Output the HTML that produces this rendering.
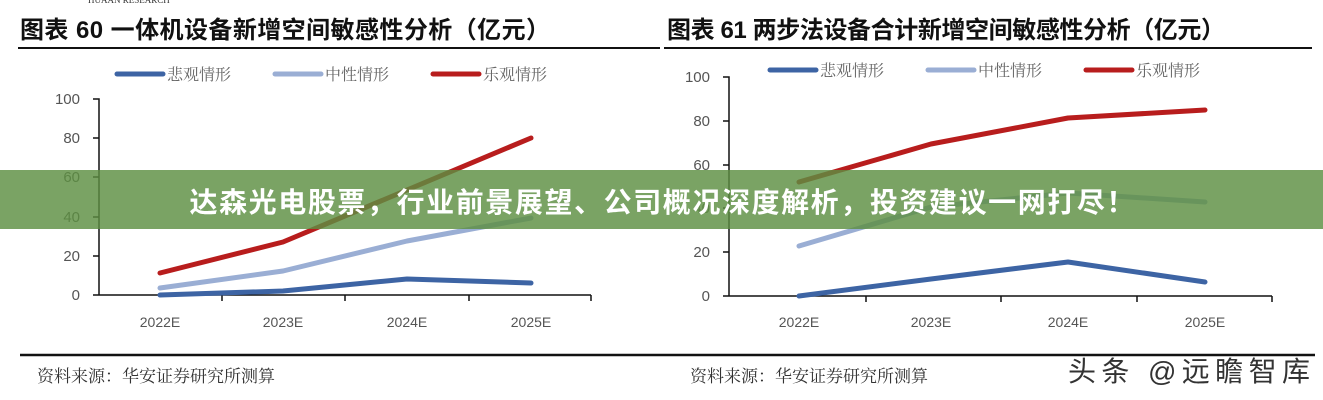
<!DOCTYPE html>
<html><head><meta charset="utf-8"><style>
body{margin:0;width:1323px;height:400px;background:#fff;overflow:hidden;font-family:"Liberation Sans","Noto Sans CJK SC",sans-serif}
</style></head><body>
<svg width="1323" height="400" xmlns="http://www.w3.org/2000/svg" style="position:absolute;left:0;top:0">
<text x="88" y="3" font-size="9" fill="#333" font-family="Liberation Serif,serif">HUAAN RESEARCH</text>
<g font-family="Liberation Sans,Noto Sans CJK SC,sans-serif" font-weight="bold" fill="#111" font-size="24">
<text x="20" y="38" textLength="530">图表 60 一体机设备新增空间敏感性分析（亿元）</text>
<text x="667" y="38" textLength="558">图表 61 两步法设备合计新增空间敏感性分析（亿元）</text>
</g>
<line x1="18" y1="48" x2="660" y2="48" stroke="#111" stroke-width="2"/>
<line x1="664" y1="48" x2="1312" y2="48" stroke="#111" stroke-width="2"/>
<g font-size="16" fill="#666" font-family="Noto Serif CJK SC,serif">
<line x1="117" y1="74" x2="163" y2="74" stroke="#3d64a4" stroke-width="5" stroke-linecap="round"/><text x="167" y="80">悲观情形</text>
<line x1="275" y1="74" x2="321" y2="74" stroke="#9aaed4" stroke-width="5" stroke-linecap="round"/><text x="325" y="80">中性情形</text>
<line x1="433" y1="74" x2="479" y2="74" stroke="#b81d1d" stroke-width="5" stroke-linecap="round"/><text x="483" y="80">乐观情形</text>
<line x1="770" y1="70" x2="816" y2="70" stroke="#3d64a4" stroke-width="5" stroke-linecap="round"/><text x="820" y="76">悲观情形</text>
<line x1="928" y1="70" x2="974" y2="70" stroke="#9aaed4" stroke-width="5" stroke-linecap="round"/><text x="978" y="76">中性情形</text>
<line x1="1086" y1="70" x2="1132" y2="70" stroke="#b81d1d" stroke-width="5" stroke-linecap="round"/><text x="1136" y="76">乐观情形</text>
</g>
<g font-size="15" fill="#555" text-anchor="end">
<text x="80" y="104">100</text><text x="80" y="143">80</text><text x="80" y="182">60</text><text x="80" y="222">40</text><text x="80" y="261">20</text><text x="80" y="300">0</text>
<text x="710" y="82">100</text><text x="710" y="126">80</text><text x="710" y="170">60</text><text x="710" y="213">40</text><text x="710" y="257">20</text><text x="710" y="301">0</text>
</g>
<g stroke="#111" stroke-width="1.5" fill="none">
<path d="M93 99H99V295M93 138H99M93 177H99M93 217H99M93 256H99M93 295H591M222 295v6M345 295v6M469 295v6M591 295v6"/>
<path d="M723 77H729V296M723 121H729M723 165H729M723 208H729M723 252H729M723 296H1272M866 296v6M1001 296v6M1137 296v6M1272 296v6"/>
</g>
<g font-size="14" fill="#555" text-anchor="middle">
<text x="160" y="327">2022E</text><text x="283" y="327">2023E</text><text x="407" y="327">2024E</text><text x="531" y="327">2025E</text>
<text x="799" y="327">2022E</text><text x="931" y="327">2023E</text><text x="1068" y="327">2024E</text><text x="1205" y="327">2025E</text>
</g>
<g fill="none" stroke-width="5" stroke-linecap="round" stroke-linejoin="round">
<polyline points="160,288 283,271 407,241 531,218" stroke="#9aaed4"/>
<polyline points="160,273 283,242 407,190 531,138" stroke="#b81d1d"/>
<polyline points="160,295 283,291 407,279 531,283" stroke="#3d64a4"/>
<polyline points="799,246 931,207 1068,193 1205,202" stroke="#9aaed4"/>
<polyline points="799,182 931,144 1068,118 1205,110" stroke="#b81d1d"/>
<polyline points="799,296 931,279 1068,262 1205,282" stroke="#3d64a4"/>
</g>
<line x1="20" y1="355" x2="1315" y2="355" stroke="#111" stroke-width="2.5"/>
<g font-size="17" fill="#333" font-family="Noto Serif CJK SC,serif">
<text x="37" y="382">资料来源：华安证券研究所测算</text>
<text x="690" y="382">资料来源：华安证券研究所测算</text>
</g>
<text x="1068" y="381" font-size="28" fill="#333" textLength="242">头条 @远瞻智库</text>
<rect x="0" y="170" width="1323" height="59" fill="#5d8f42" fill-opacity="0.82"/>
<text x="662" y="212" text-anchor="middle" font-size="28" font-weight="bold" fill="#fff" textLength="945">达森光电股票，行业前景展望、公司概况深度解析，投资建议一网打尽！</text>
</svg>
</body></html>
